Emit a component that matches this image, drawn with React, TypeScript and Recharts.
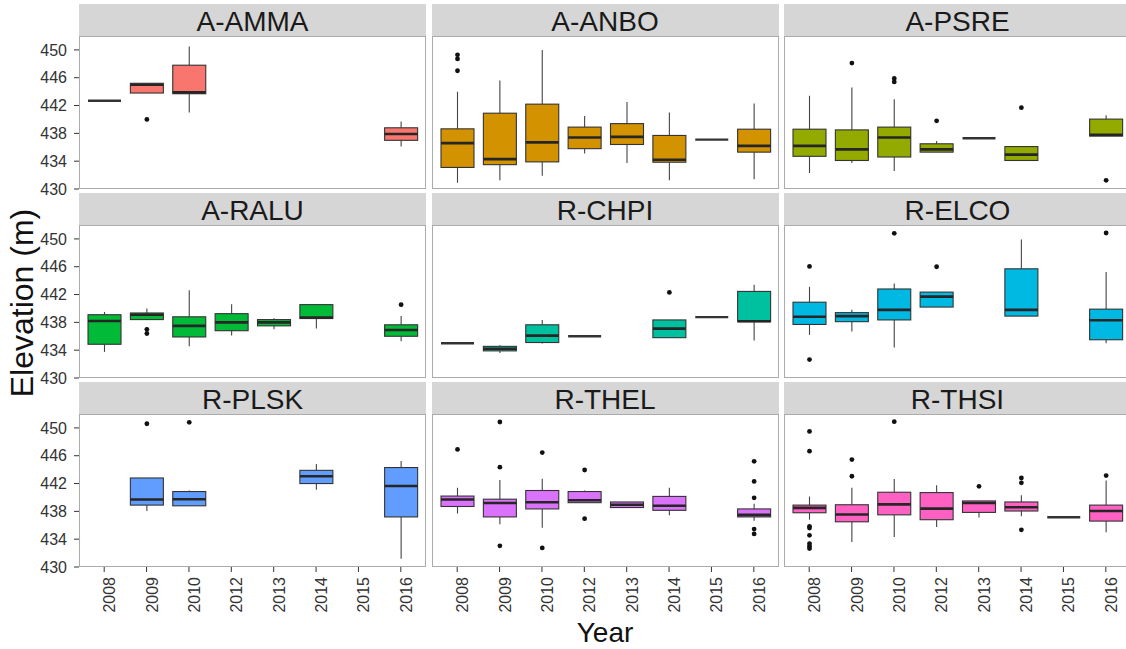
import { ComposedChart, Bar, XAxis, YAxis, CartesianGrid } from "recharts";

// Sampling years shared by every facet
const YEARS = ["2008", "2009", "2010", "2012", "2013", "2014", "2015", "2016"];
const SITES = ["A-AMMA", "A-ANBO", "A-PSRE", "A-RALU", "R-CHPI", "R-ELCO", "R-PLSK", "R-THEL", "R-THSI"];
const FILLS = ["#F8766D", "#D39200", "#93AA00", "#00BA38", "#00C19F", "#00B9E3", "#619CFF", "#DB72FB", "#FF61C3"];

const MAJOR_TICKS = [430, 434, 438, 442, 446, 450];
const MINOR_TICKS = [432, 436, 440, 444, 448, 452];

// five-number summaries per year: [lower whisker, Q1, median, Q3, upper whisker]
type Box = [number, number, number, number, number] | null;

const AMMA_BOX: Box[] = [
  [442.7, 442.7, 442.7, 442.7, 442.7],
  [443.8, 443.8, 445.0, 445.2, 445.2],
  [441.0, 443.7, 443.9, 447.8, 450.5],
  null, null, null, null,
  [436.1, 437.0, 437.9, 438.8, 439.7],
];
const AMMA_OUT = [[], [440.0], [], [], [], [], [], []];

const ANBO_BOX: Box[] = [
  [430.9, 433.1, 436.6, 438.65, 444.0],
  [431.25, 433.5, 434.3, 440.9, 445.6],
  [431.9, 433.9, 436.7, 442.2, 450.0],
  [435.1, 435.8, 437.4, 438.9, 440.5],
  [433.75, 436.4, 437.5, 439.4, 442.5],
  [431.25, 433.85, 434.2, 437.7, 441.0],
  [437.1, 437.1, 437.1, 437.1, 437.1],
  [431.4, 435.3, 436.2, 438.6, 442.3],
];
const ANBO_OUT = [[449.3, 448.7, 447.0], [], [], [], [], [], [], []];

const PSRE_BOX: Box[] = [
  [432.3, 434.7, 436.2, 438.6, 443.4],
  [433.75, 434.1, 435.7, 438.5, 444.6],
  [432.6, 434.6, 437.4, 438.9, 442.9],
  [435.3, 435.3, 435.7, 436.5, 436.9],
  [437.3, 437.3, 437.3, 437.3, 437.3],
  [434.1, 434.1, 434.95, 436.1, 436.2],
  null,
  [437.6, 437.6, 437.8, 440.05, 440.6],
];
const PSRE_OUT = [[], [448.1], [445.9, 445.4], [439.8], [], [441.7], [], [431.25]];

const RALU_BOX: Box[] = [
  [433.75, 434.85, 438.2, 439.1, 439.5],
  [438.4, 438.4, 439.1, 439.35, 440.0],
  [434.55, 435.9, 437.5, 438.8, 442.6],
  [436.1, 436.8, 438.0, 439.25, 440.6],
  [437.0, 437.5, 438.0, 438.4, 438.6],
  [437.1, 438.55, 438.7, 440.55, 440.55],
  null,
  [435.3, 436.0, 436.9, 437.65, 438.9],
];
const RALU_OUT = [[], [437.0, 436.4], [], [], [], [], [], [440.55]];

const CHPI_BOX: Box[] = [
  [435.0, 435.0, 435.0, 435.0, 435.0],
  [433.6, 433.9, 434.2, 434.55, 434.7],
  [434.95, 435.1, 436.1, 437.65, 438.35],
  [436.0, 436.0, 436.0, 436.0, 436.0],
  null,
  [435.8, 435.8, 437.1, 438.35, 438.35],
  [438.75, 438.75, 438.75, 438.75, 438.75],
  [435.4, 438.1, 438.15, 442.45, 443.4],
];
const CHPI_OUT = [[], [], [], [], [], [442.3], [], []];

const ELCO_BOX: Box[] = [
  [436.2, 437.7, 438.8, 440.9, 443.1],
  [436.7, 438.1, 438.9, 439.4, 439.8],
  [434.4, 438.35, 439.8, 442.8, 443.6],
  [440.2, 440.2, 441.7, 442.35, 442.35],
  null,
  [438.9, 438.9, 439.8, 445.7, 449.9],
  null,
  [435.0, 435.5, 438.3, 439.9, 445.25],
];
const ELCO_OUT = [[446.05, 432.65], [], [450.8], [446.0], [], [], [], [450.85]];

const PLSK_BOX: Box[] = [
  null,
  [438.05, 438.9, 439.7, 442.8, 442.8],
  [438.8, 438.8, 439.75, 440.85, 441.0],
  null, null,
  [441.1, 442.0, 443.05, 443.9, 444.8],
  null,
  [431.2, 437.2, 441.65, 444.3, 445.25],
];
const PLSK_OUT = [[], [450.6], [450.8], [], [], [], [], []];

const THEL_BOX: Box[] = [
  [437.7, 438.7, 439.7, 440.2, 441.4],
  [436.15, 437.2, 439.2, 439.75, 442.5],
  [435.65, 438.35, 439.3, 441.0, 442.7],
  [439.25, 439.25, 439.6, 440.85, 441.0],
  [438.55, 438.55, 438.95, 439.35, 439.35],
  [437.45, 438.15, 438.8, 440.15, 441.4],
  null,
  [436.65, 437.2, 437.5, 438.35, 439.1],
];
const THEL_OUT = [
  [446.9],
  [450.85, 444.35, 433.05],
  [446.45, 432.75],
  [443.95, 436.95],
  [],
  [],
  [],
  [445.2, 442.3, 439.95, 435.45, 434.75],
];

const THSI_BOX: Box[] = [
  [436.8, 437.8, 438.5, 438.9, 440.15],
  [433.6, 436.5, 437.55, 438.95, 441.4],
  [434.3, 437.5, 439.0, 440.75, 442.65],
  [435.75, 436.8, 438.4, 440.7, 441.75],
  [437.1, 437.85, 439.2, 439.5, 439.5],
  [437.3, 438.05, 438.6, 439.35, 440.3],
  [437.15, 437.15, 437.15, 437.15, 437.15],
  [435.0, 436.6, 438.05, 438.9, 442.45],
];
const THSI_OUT = [
  [449.5, 446.65, 435.85, 435.6, 434.55, 433.35, 433.0, 432.65],
  [445.45, 443.05],
  [450.9],
  [],
  [441.6],
  [442.8, 442.1, 435.35],
  [],
  [443.15],
];

const BOXES = [AMMA_BOX, ANBO_BOX, PSRE_BOX, RALU_BOX, CHPI_BOX, ELCO_BOX, PLSK_BOX, THEL_BOX, THSI_BOX];
const OUTLIERS = [AMMA_OUT, ANBO_OUT, PSRE_OUT, RALU_OUT, CHPI_OUT, ELCO_OUT, PLSK_OUT, THEL_OUT, THSI_OUT];

// facet layout
const COL_X = [79, 431.5, 784];
const ROW_Y = [36, 225, 414];
const PANEL_W = 347;
const PANEL_H = 153;
const STRIP_H = 32;
const Y_AXIS_W = 79;
const X_AXIS_H = 80;
const FONT = "'Liberation Sans', Arial, sans-serif";

function rowsFor(boxes: Box[], outliers: number[][]) {
  return YEARS.map((year, i) => {
    const b = boxes[i];
    if (!b) return { year, range: null, out: [] as number[] };
    return { year, range: [b[0], b[4]], lo: b[0], q1: b[1], med: b[2], q3: b[3], hi: b[4], out: outliers[i] };
  });
}

// Bar spans lower..upper whisker; the box, median and outliers are placed along that span
function BoxShape(props: any) {
  const { x, y, width, height, payload, fill } = props;
  if (!payload || payload.q1 == null) return null;
  if (![x, y, width, height].every((n) => Number.isFinite(n))) return null;
  const top = Math.min(y, y + height);
  const bottom = Math.max(y, y + height);
  const span = payload.hi - payload.lo;
  const cx = x + width / 2;
  if (!(span > 0)) {
    return <line x1={x} x2={x + width} y1={top} y2={top} stroke="#333" strokeWidth={2.4} />;
  }
  const py = (v: number) => bottom - ((v - payload.lo) / span) * (bottom - top);
  const q3y = py(payload.q3);
  const q1y = py(payload.q1);
  return (
    <g>
      <line x1={cx} x2={cx} y1={py(payload.hi)} y2={q3y} stroke="#444" strokeWidth={1.1} />
      <line x1={cx} x2={cx} y1={q1y} y2={py(payload.lo)} stroke="#444" strokeWidth={1.1} />
      <rect x={x} y={q3y} width={width} height={Math.max(q1y - q3y, 0)} fill={fill} stroke="#333" strokeWidth={1.1} />
      <line x1={x} x2={x + width} y1={py(payload.med)} y2={py(payload.med)} stroke="#262626" strokeWidth={2.6} />
      {payload.out.map((o: number, i: number) => (
        <circle key={i} cx={cx} cy={py(o)} r={2.4} fill="#111" />
      ))}
    </g>
  );
}

function YearTick(props: any) {
  const { x, y, payload } = props;
  return (
    <g transform={`translate(${x},${y + 3})`}>
      <text transform="rotate(-90)" x={0} y={0} dy={11} textAnchor="end" fontSize={16} fill="#333" fontFamily={FONT}>
        {payload.value}
      </text>
    </g>
  );
}

const hGrid = (values: number[]) => (args: any) => {
  const s = args?.yAxis?.scale;
  return typeof s === "function" ? values.map((v) => s(v)) : [];
};

const vGrid = (args: any) => {
  const s = args?.xAxis?.scale;
  if (typeof s !== "function") return [];
  const bw = typeof s.bandwidth === "function" ? s.bandwidth() : 0;
  return YEARS.map((yr) => s(yr) + bw / 2);
};

function Facet({ index }: { index: number }) {
  const col = index % 3;
  const row = Math.floor(index / 3);
  const leftCol = col === 0;
  const bottomRow = row === 2;
  const data = rowsFor(BOXES[index], OUTLIERS[index]);
  const px = COL_X[col];
  const py = ROW_Y[row];
  const chartLeft = leftCol ? px - Y_AXIS_W : px;
  const chartW = leftCol ? PANEL_W + Y_AXIS_W : PANEL_W;
  const chartH = bottomRow ? PANEL_H + X_AXIS_H : PANEL_H;

  return (
    <>
      <div
        style={{
          position: "absolute",
          left: px,
          top: py - STRIP_H,
          width: PANEL_W,
          height: STRIP_H,
          background: "#d6d6d6",
          textAlign: "center",
          fontSize: 28,
          lineHeight: "32px",
          color: "#1a1a1a",
        }}
      >
        <span style={{ position: "relative", top: 2 }}>{SITES[index]}</span>
      </div>
      <div style={{ position: "absolute", left: chartLeft, top: py }}>
        <ComposedChart width={chartW} height={chartH} data={data} margin={{ top: 0, right: 0, bottom: 0, left: 0 }}>
          <CartesianGrid
            vertical={false}
            stroke="#f4f4f4"
            strokeWidth={1}
            horizontalCoordinatesGenerator={hGrid(MINOR_TICKS)}
          />
          <CartesianGrid
            stroke="#e6e6e6"
            strokeWidth={1.1}
            horizontalCoordinatesGenerator={hGrid(MAJOR_TICKS)}
            verticalCoordinatesGenerator={vGrid}
          />
          <XAxis
            dataKey="year"
            type="category"
            hide={!bottomRow}
            height={X_AXIS_H}
            padding={{ left: 4, right: 4 }}
            interval={0}
            axisLine={false}
            tickSize={5}
            tickLine={{ stroke: "#333" }}
            tick={<YearTick />}
          />
          <YAxis
            type="number"
            domain={[430, 452]}
            allowDataOverflow
            ticks={MAJOR_TICKS}
            interval={0}
            hide={!leftCol}
            width={Y_AXIS_W}
            axisLine={false}
            tickSize={5}
            tickMargin={7}
            tickLine={{ stroke: "#333" }}
            tick={{ fontSize: 16, fill: "#333", fontFamily: FONT }}
          />
          <Bar dataKey="range" fill={FILLS[index]} barSize={33} shape={<BoxShape />} isAnimationActive={false} />
        </ComposedChart>
      </div>
      <div
        style={{
          position: "absolute",
          left: px,
          top: py,
          width: PANEL_W,
          height: PANEL_H,
          border: "1px solid #ababab",
          boxSizing: "border-box",
          pointerEvents: "none",
        }}
      />
    </>
  );
}

export default function App() {
  return (
    <div
      style={{
        position: "absolute",
        left: 0,
        top: 0,
        width: 1126,
        height: 649,
        overflow: "hidden",
        background: "#fff",
        fontFamily: FONT,
      }}
    >
      <style>{".recharts-surface { overflow: visible; }"}</style>
      {SITES.map((_, i) => (
        <Facet key={i} index={i} />
      ))}
      <div
        style={{
          position: "absolute",
          left: 22,
          top: 303,
          width: 300,
          height: 36,
          lineHeight: "36px",
          fontSize: 32,
          textAlign: "center",
          color: "#111",
          transform: "translate(-50%, -50%) rotate(-90deg)",
        }}
      >
        Elevation (m)
      </div>
      <div
        style={{
          position: "absolute",
          left: 505,
          top: 619,
          width: 200,
          height: 28,
          lineHeight: "28px",
          fontSize: 28,
          textAlign: "center",
          color: "#111",
        }}
      >
        Year
      </div>
    </div>
  );
}
